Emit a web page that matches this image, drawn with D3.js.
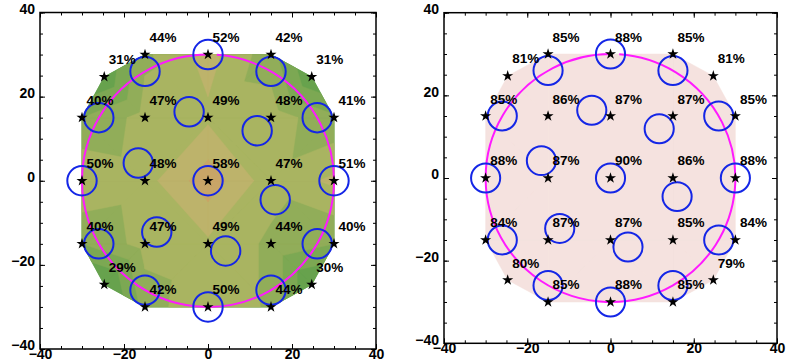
<!DOCTYPE html>
<html>
<head>
<meta charset="utf-8">
<script src="https://cdnjs.cloudflare.com/ajax/libs/d3/7.8.5/d3.min.js"></script>
<style>
  body { margin: 0; background: #fff; }
  svg { display: block; }
</style>
</head>
<body>
<div id="chart"></div>
<script>
// measurement points (same layout in both panels)
var ptX = [-15, 0, 15, -24.7, 24.7, -30, -15, 0, 15, 30, -30, -15, 0, 15, 30, -30, -15, 0, 15, 30, -24.7, 24.7, -15, 0, 15];
var ptY = [30, 30, 30, 24.7, 24.7, 15, 15, 15, 15, 15, 0, 0, 0, 0, 0, -15, -15, -15, -15, -15, -24.7, -24.7, -30, -30, -30];

var leftVals  = [44, 52, 42, 31, 31, 40, 47, 49, 48, 41, 50, 48, 58, 47, 51, 40, 47, 49, 44, 40, 29, 30, 42, 50, 44];
var rightVals = [85, 88, 85, 81, 81, 85, 86, 87, 87, 85, 88, 87, 90, 86, 88, 84, 87, 87, 85, 84, 80, 79, 85, 88, 85];

// blue rings
var ringX = [0, -15, 15, -26, 26, -4.5, 11.7, -16.6, 0, -30, 30, 16, -12.2, 4.2, -26, 26, -15, 15, 0];
var ringY = [30, 26, 26, 15, 15, 16.4, 11.9, 4.2, 0, 0, 0, -4.5, -12.2, -16.7, -15, -15, -26, -26, -30];
var ringR = 3.5;
var bigR = 30;

var tickLabels = [-40, -20, 0, 20, 40];

var leftLevels = [25, 30, 35, 40, 45, 50, 55, 60];
var leftColors = ["#559c47", "#67a24d", "#7ca853", "#91ad59", "#a9b461", "#bdb36b", "#c8a567"];
var rightLevels = [75, 95];
var rightColors = ["#f5e2df"];

var fontStack = "'Liberation Sans', Arial, Helvetica, sans-serif";

var panels = [
  {x0: 40,  y0: 12.5, w: 336, h: 336.5, vals: leftVals,  levels: leftLevels,  colors: leftColors},
  {x0: 444, y0: 12.7, w: 333, h: 330.6, vals: rightVals, levels: rightLevels, colors: rightColors}
];

var svg = d3.select("#chart").append("svg")
  .attr("width", 787)
  .attr("height", 362);

// triangulate the grid: full squares split alternately, corners fanned to the diagonal points
function buildTriangles() {
  var idx = {};
  ptX.forEach(function(x, i) { idx[x + "," + ptY[i]] = i; });
  function at(i, j) { var k = idx[(i * 15) + "," + (j * 15)]; return k === undefined ? -1 : k; }
  function diagPoint(sx, sy) {
    for (var k = 0; k < ptX.length; k++) {
      if (Math.abs(ptX[k]) % 15 !== 0 && Math.sign(ptX[k]) === sx && Math.sign(ptY[k]) === sy) return k;
    }
    return -1;
  }
  var tris = [];
  for (var i = -2; i <= 1; i++) {
    for (var j = -2; j <= 1; j++) {
      var a = at(i, j), b = at(i + 1, j), c = at(i, j + 1), d = at(i + 1, j + 1);
      var corners = [[a, i, j], [b, i + 1, j], [d, i + 1, j + 1], [c, i, j + 1]];
      var missing = corners.filter(function(q) { return q[0] < 0; });
      if (missing.length === 0) {
        if ((i + j) % 2 === 0) { tris.push([a, b, c]); tris.push([b, d, c]); }
        else { tris.push([a, b, d]); tris.push([a, d, c]); }
      } else if (missing.length === 1) {
        var m = corners.indexOf(missing[0]);
        var p = corners[(m + 2) % 4][0], q = corners[(m + 1) % 4][0], r = corners[(m + 3) % 4][0];
        var D = diagPoint(Math.sign(missing[0][1]), Math.sign(missing[0][2]));
        tris.push([p, q, D]); tris.push([p, D, r]);
      }
    }
  }
  return tris;
}

// keep the part of a polygon where the interpolated value is >= lev
function clipAbove(poly, lev) {
  var out = [];
  for (var k = 0; k < poly.length; k++) {
    var a = poly[k], b = poly[(k + 1) % poly.length];
    var ina = a.v >= lev, inb = b.v >= lev;
    if (ina) out.push(a);
    if (ina !== inb) {
      var t = (lev - a.v) / (b.v - a.v);
      out.push({x: a.x + t * (b.x - a.x), y: a.y + t * (b.y - a.y), v: lev});
    }
  }
  return out;
}

var triangles = buildTriangles();
var star = d3.symbol().type(d3.symbolStar).size(38);

panels.forEach(function(P) {
  var g = svg.append("g").attr("transform", "translate(" + P.x0 + "," + P.y0 + ")");
  var sx = d3.scaleLinear().domain([-40, 40]).range([0, P.w]);
  var sy = d3.scaleLinear().domain([-40, 40]).range([P.h, 0]);

  // filled bands, stacked: each level covers everything above it in one path
  var bands = g.append("g");
  for (var b = 0; b < P.colors.length; b++) {
    var d = "";
    triangles.forEach(function(t) {
      var poly = t.map(function(k) { return {x: ptX[k], y: ptY[k], v: P.vals[k]}; });
      poly = clipAbove(poly, P.levels[b]);
      if (poly.length < 3) return;
      d += "M" + poly.map(function(p) { return sx(p.x) + "," + sy(p.y); }).join("L") + "Z";
    });
    if (d) bands.append("path").attr("d", d)
      .attr("fill", P.colors[b])
      .attr("stroke", P.colors[b])
      .attr("stroke-width", 0.5)
      .attr("stroke-linejoin", "round");
  }

  // axes: minor and major ticks on every side, pointing inward
  var minor = sx.ticks(16);
  function axisStyle(sel) {
    sel.select(".domain").remove();
    sel.attr("font-family", fontStack).attr("font-size", 14).attr("font-weight", "bold");
    sel.selectAll("line").attr("stroke", "#000");
    sel.selectAll("text").attr("fill", "#000");
  }
  g.append("g").attr("transform", "translate(0," + P.h + ")")
    .call(d3.axisBottom(sx).tickValues(minor).tickSize(-3).tickFormat("")).call(axisStyle);
  g.append("g").attr("transform", "translate(0," + P.h + ")")
    .call(d3.axisBottom(sx).tickValues(tickLabels).tickSize(-5).tickPadding(0)).call(axisStyle);
  g.append("g")
    .call(d3.axisLeft(sy).tickValues(minor).tickSize(-3).tickFormat("")).call(axisStyle);
  var yl = g.append("g")
    .call(d3.axisLeft(sy).tickValues(tickLabels).tickSize(-5).tickPadding(5)).call(axisStyle);
  yl.selectAll("text").attr("dy", "0.05em");
  g.append("g")
    .call(d3.axisTop(sx).tickValues(minor).tickSize(-3).tickFormat("")).call(axisStyle);
  g.append("g")
    .call(d3.axisTop(sx).tickValues(tickLabels).tickSize(-5).tickFormat("")).call(axisStyle);
  g.append("g").attr("transform", "translate(" + P.w + ",0)")
    .call(d3.axisRight(sy).tickValues(minor).tickSize(-3).tickFormat("")).call(axisStyle);
  g.append("g").attr("transform", "translate(" + P.w + ",0)")
    .call(d3.axisRight(sy).tickValues(tickLabels).tickSize(-5).tickFormat("")).call(axisStyle);

  g.append("rect")
    .attr("width", P.w).attr("height", P.h)
    .attr("fill", "none").attr("stroke", "#000").attr("stroke-width", 1.5);

  // magenta reference circle (small gap at the top where the trace starts)
  var rx = sx(bigR) - sx(0), ry = sy(0) - sy(bigR);
  var a0 = -Math.PI / 2 + 0.07;
  var arc = d3.path();
  arc.arc(0, 0, 1, a0, a0 + 2 * Math.PI - 0.07);
  g.append("path")
    .attr("d", arc.toString())
    .attr("transform", "translate(" + sx(0) + "," + sy(0) + ") scale(" + rx + "," + ry + ")")
    .attr("fill", "none")
    .attr("stroke", "#ff1aff")
    .attr("stroke-width", 2)
    .attr("vector-effect", "non-scaling-stroke");

  // blue rings
  g.selectAll(".ring").data(ringX).enter().append("ellipse")
    .attr("class", "ring")
    .attr("cx", function(d) { return sx(d); })
    .attr("cy", function(d, i) { return sy(ringY[i]); })
    .attr("rx", sx(ringR) - sx(0))
    .attr("ry", sy(0) - sy(ringR))
    .attr("fill", "none")
    .attr("stroke", "#1426e6")
    .attr("stroke-width", 2);

  // stars and labels
  g.selectAll(".star").data(ptX).enter().append("path")
    .attr("class", "star")
    .attr("d", star)
    .attr("transform", function(d, i) { return "translate(" + sx(d) + "," + sy(ptY[i]) + ")"; })
    .attr("fill", "#000");

  g.selectAll(".lab").data(P.vals).enter().append("text")
    .attr("class", "lab")
    .attr("x", function(d, i) { return sx(ptX[i]) + 4.5; })
    .attr("y", function(d, i) { return sy(ptY[i]) - 12.5; })
    .attr("font-family", fontStack)
    .attr("font-size", 13.5)
    .attr("font-weight", "bold")
    .attr("fill", "#000")
    .text(function(d) { return d + "%"; });
});
</script>
</body>
</html>
